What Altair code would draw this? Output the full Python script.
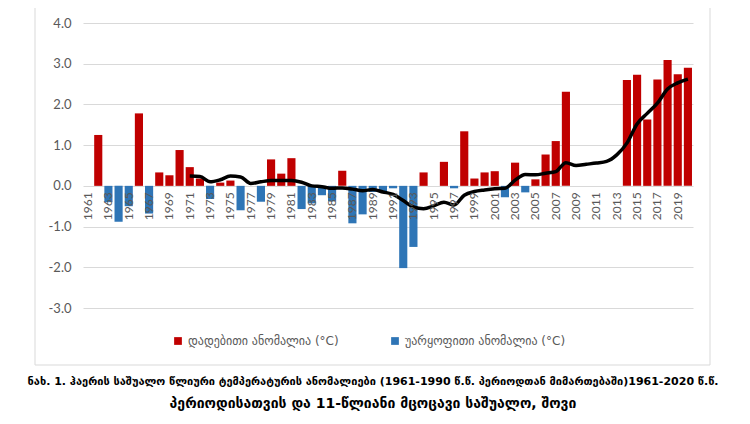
import altair as alt
import pandas as pd

years = list(range(1961, 2021))

# annual temperature anomaly (°C) relative to 1961-1990; None = no bar
anomaly = [
    None, 1.25, -0.40, -0.88, -0.50, 1.78, -0.68, 0.33, 0.26, 0.88,   # 1961-1970
    0.46, 0.18, -0.32, 0.08, 0.13, -0.60, None, -0.39, 0.65, 0.30,    # 1971-1980
    0.68, -0.57, -0.43, -0.23, -0.38, 0.37, -0.92, -0.70, -0.15, -0.15,  # 1981-1990
    -0.06, -2.02, -1.50, 0.33, None, 0.59, -0.06, 1.34, 0.18, 0.33,   # 1991-2000
    0.36, -0.28, 0.57, -0.16, 0.16, 0.77, 1.10, 2.31, None, None,     # 2001-2010
    None, None, None, 2.60, 2.73, 1.63, 2.61, 3.09, 2.74, 2.90,       # 2011-2020
]

# 11-year moving average
moving_avg = [
    None, None, None, None, None, None, None, None, None, None,       # 1961-1970
    0.24, 0.23, 0.10, 0.15, 0.24, 0.22, 0.06, 0.10, 0.13, 0.13,       # 1971-1980
    0.13, 0.09, 0.00, -0.02, -0.06, -0.05, -0.08, -0.12, -0.09, -0.15,  # 1981-1990
    -0.21, -0.36, -0.52, -0.56, -0.49, -0.40, -0.47, -0.23, -0.14, -0.10,  # 1991-2000
    -0.07, -0.06, 0.14, 0.28, 0.27, 0.31, 0.35, 0.57, 0.50, 0.53,     # 2001-2010
    0.56, 0.60, 0.76, 1.05, 1.52, 1.78, 2.03, 2.38, 2.53, 2.62,       # 2011-2020
]

label_years = list(range(1961, 2020, 2))
y_ticks = [-3, -2, -1, 0, 1, 2, 3, 4]

pos_label = "დადებითი ანომალია (°C)"
neg_label = "უარყოფითი ანომალია (°C)"

caption_1 = "ნახ. 1. ჰაერის საშუალო წლიური ტემპერატურის ანომალიები (1961-1990 წ.წ. პერიოდთან მიმართებაში)1961-2020 წ.წ."
caption_2 = "პერიოდისათვის და 11-წლიანი მცოცავი საშუალო, შოვი"

bars_df = pd.DataFrame({"year": years, "value": anomaly}).dropna()
bars_df["sign"] = [pos_label if v > 0 else neg_label for v in bars_df["value"]]
line_df = pd.DataFrame({"year": years, "value": moving_avg}).dropna()

W, H = 610, 285
ymin, ymax = -3, 4
zero_offset = -(H * (0 - ymin) / (ymax - ymin))

x_enc = alt.X(
    "year:O",
    scale=alt.Scale(domain=years, paddingInner=0.2, paddingOuter=0.1),
    axis=alt.Axis(
        values=label_years, labelAngle=270, offset=zero_offset, domain=False,
        ticks=False, labelPadding=6, labelFontSize=12, labelColor="#595959",
        labelFont="Lato", title=None, zindex=1, grid=False,
    ),
)
y_enc = alt.Y(
    "value:Q",
    scale=alt.Scale(domain=[ymin, ymax], nice=False),
    axis=alt.Axis(
        values=y_ticks,
        labelExpr="(datum.value < 0 ? '-' : '') + format(abs(datum.value), '.1f')",
        grid=True, gridColor="#d9d9d9", domain=False, ticks=False,
        labelFontSize=13, labelColor="#595959", labelFont="Lato",
        labelPadding=12, title=None,
    ),
)

border = alt.Chart(pd.DataFrame({"a": [0]})).mark_rect(
    filled=False, stroke="#d9d9d9", strokeWidth=1
).encode(
    x=alt.value(-48), x2=alt.value(627), y=alt.value(-19), y2=alt.value(342)
)

bars = alt.Chart(bars_df).mark_bar().encode(
    x=x_enc,
    y=y_enc,
    color=alt.Color(
        "sign:N",
        scale=alt.Scale(domain=[pos_label, neg_label], range=["#C00000", "#2E75B6"]),
        legend=alt.Legend(
            title=None, orient="none", legendX=89, legendY=312,
            direction="horizontal", symbolType="square", symbolSize=60,
            symbolStrokeWidth=0, labelFontSize=12, labelColor="#595959",
            labelFont="DejaVu Sans", columnPadding=50, labelLimit=400,
        ),
    ),
)

line = alt.Chart(line_df).mark_line(
    color="black", strokeWidth=3.5, interpolate="monotone"
).encode(
    x=x_enc,
    y=y_enc,
)

chart = alt.layer(border, bars, line).properties(
    width=W, height=H,
    autosize=alt.AutoSizeParams(type="none"),
    padding={"left": 75, "top": 15, "right": 49, "bottom": 108},
    title=alt.TitleParams(
        text=caption_1, subtitle=caption_2, orient="bottom", anchor="middle",
        frame="group", offset=10, dx=-15, fontSize=11, fontWeight="bold",
        font="DejaVu Sans", color="black",
        subtitleFontSize=14, subtitleFontWeight="bold",
        subtitleFont="DejaVu Sans", subtitleColor="black", subtitlePadding=10,
    ),
).configure_view(strokeWidth=0)

chart.save("out.html", embed_options={"renderer": "svg", "actions": False})
